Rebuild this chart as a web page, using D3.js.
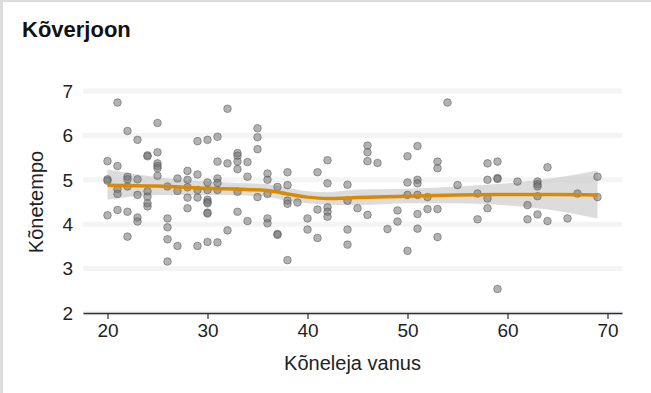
<!DOCTYPE html>
<html>
<head>
<meta charset="utf-8">
<script src="https://cdn.jsdelivr.net/npm/d3@7"></script>
<style>
  html, body { margin: 0; padding: 0; background: #fff; }
  svg { display: block; font-family: "Liberation Sans", Arial, sans-serif; }
</style>
</head>
<body>
<div id="chart"></div>
<script>
// speaker age (x) and speech rate (y)
const ages = [
  20, 20, 20, 20,
  21, 21, 21, 21, 21,
  22, 22, 22, 22, 22, 22,
  23, 23, 23, 23, 23,
  24, 24, 24, 24, 24, 24,
  25, 25, 25, 25, 25, 25,
  26, 26, 26, 26, 26,
  27, 27, 27,
  28, 28, 28, 28, 28,
  29, 29, 29, 29, 29,
  30, 30, 30, 30, 30, 30, 30, 30, 30,
  31, 31, 31, 31, 31, 31,
  32, 32, 32,
  33, 33, 33, 33, 33, 33,
  34, 34, 34,
  35, 35, 35, 35,
  36, 36, 36, 36, 36,
  37, 37, 37,
  38, 38, 38, 38, 38,
  39,
  40, 40,
  41, 41, 41,
  42, 42, 42, 42, 42,
  44, 44, 44, 44,
  45,
  46, 46, 46, 46,
  47,
  48,
  49, 49,
  50, 50, 50, 50,
  51, 51, 51, 51, 51, 51,
  52, 52,
  53, 53, 53, 53,
  54,
  55,
  57, 57,
  58, 58, 58, 58,
  59, 59, 59, 59,
  61,
  62, 62,
  63, 63, 63, 63, 63,
  64, 64,
  66,
  67,
  69, 69
];
const rates = [
  5.42, 5.01, 4.98, 4.2,
  6.74, 5.31, 4.79, 4.68, 4.32,
  6.1, 5.07, 5.01, 4.85, 4.28, 3.72,
  5.9, 5.01, 4.66, 4.15, 4.06,
  5.55, 5.53, 4.74, 4.62, 4.47, 4.4,
  6.28, 5.62, 5.37, 5.31, 5.26, 5.09,
  4.85, 4.13, 3.93, 3.66, 3.16,
  5.03, 4.75, 3.51,
  5.2, 5.0, 4.83, 4.6, 4.36,
  5.87, 5.12, 4.77, 4.6, 3.51,
  5.9, 4.94, 4.77, 4.55, 4.5, 4.47, 4.26, 4.24, 3.6,
  5.97, 5.41, 5.03, 4.93, 4.77, 3.59,
  6.6, 5.37, 3.86,
  5.6, 5.54, 5.41, 5.24, 4.73, 4.28,
  5.4, 5.07, 4.07,
  6.16, 5.96, 5.69, 4.61,
  5.14, 5.0, 4.68, 4.13, 4.02,
  4.84, 3.78, 3.76,
  5.17, 4.88, 4.53, 4.46, 3.19,
  4.49,
  4.13, 3.88,
  5.17, 4.33, 3.69,
  5.44, 4.92, 4.38, 4.28, 4.17,
  4.89, 4.53, 3.88, 3.54,
  4.36,
  5.77, 5.62, 5.42, 4.21,
  5.38,
  3.89,
  4.31, 4.06,
  5.53, 4.94, 4.66, 3.4,
  5.76, 5.0, 4.92, 4.66, 4.23, 3.9,
  4.61, 4.34,
  5.41, 5.26, 4.34, 3.71,
  6.74,
  4.88,
  4.69, 4.11,
  5.37, 5.0, 4.58, 4.36,
  5.41, 5.04, 5.02, 2.54,
  4.96,
  4.43, 4.11,
  4.96, 4.9, 4.85, 4.63, 4.22,
  5.28, 4.07,
  4.13,
  4.69,
  5.07, 4.61
];

// smoother curve and its band
const fitAges = [20, 25, 30, 33, 36, 38, 40, 42, 45, 50, 55, 60, 65, 69];
const fitRate = [4.88, 4.86, 4.81, 4.79, 4.76, 4.68, 4.61, 4.58, 4.6, 4.63, 4.66, 4.67, 4.67, 4.66];
const fitLow  = [4.55, 4.66, 4.66, 4.65, 4.62, 4.52, 4.47, 4.44, 4.43, 4.47, 4.47, 4.42, 4.3, 4.13];
const fitHigh = [5.23, 5.06, 4.96, 4.93, 4.9, 4.82, 4.74, 4.72, 4.78, 4.8, 4.85, 4.92, 5.05, 5.21];

const xTicks = [20, 30, 40, 50, 60, 70];
const yTicks = [2, 3, 4, 5, 6, 7];

const width = 651, height = 393;
const plotLeft = 83, plotRight = 622, plotTop = 91, plotBottom = 313;

const svg = d3.select('#chart').append('svg')
  .attr('width', width).attr('height', height);

// page frame
svg.append('rect').attr('x', 0).attr('y', 0).attr('width', width).attr('height', height).attr('fill', '#fff');
svg.append('rect').attr('x', 0).attr('y', 0).attr('width', 3).attr('height', height).attr('fill', '#dcdcdc');
svg.append('rect').attr('x', 0).attr('y', 0).attr('width', width).attr('height', 2).attr('fill', '#dcdcdc');

svg.append('text')
  .attr('x', 22).attr('y', 37)
  .attr('font-size', 22).attr('font-weight', 'bold').attr('fill', '#111')
  .text('Kõverjoon');

const x = d3.scaleLinear().domain([17.55, 71.45]).range([plotLeft, plotRight]);
const y = d3.scaleLinear().domain([2, 7]).range([plotBottom, plotTop]);

// grid bands
svg.append('g').selectAll('line')
  .data(yTicks)
  .enter().append('line')
  .attr('x1', plotLeft).attr('x2', plotRight)
  .attr('y1', d => y(d)).attr('y2', d => y(d))
  .attr('stroke', '#f3f4f6').attr('stroke-width', 5);

// y labels
svg.append('g').selectAll('text')
  .data(yTicks)
  .enter().append('text')
  .attr('x', 73).attr('y', d => y(d))
  .attr('dy', '0.36em')
  .attr('text-anchor', 'end')
  .attr('font-size', 19).attr('fill', '#222')
  .text(d => d);

// x axis
const xAxis = svg.append('g')
  .attr('transform', `translate(0,${plotBottom})`)
  .call(d3.axisBottom(x).tickValues(xTicks).tickSize(6).tickPadding(5).tickSizeOuter(0));
xAxis.select('.domain').attr('stroke', '#2a2f36').attr('stroke-width', 1.5);
xAxis.selectAll('.tick line').attr('stroke', '#2a2f36').attr('stroke-width', 1.2);
xAxis.selectAll('.tick text')
  .attr('font-size', 19).attr('fill', '#222')
  .attr('font-family', '"Liberation Sans", Arial, sans-serif');

svg.append('text')
  .attr('x', (plotLeft + plotRight) / 2).attr('y', 370)
  .attr('text-anchor', 'middle')
  .attr('font-size', 20).attr('fill', '#222')
  .text('Kõneleja vanus');

svg.append('text')
  .attr('transform', `translate(43,${(plotTop + plotBottom) / 2}) rotate(-90)`)
  .attr('text-anchor', 'middle')
  .attr('font-size', 20).attr('fill', '#222')
  .text('Kõnetempo');

// confidence band
const fit = fitAges.map((a, i) => ({ a, r: fitRate[i], lo: fitLow[i], hi: fitHigh[i] }));

svg.append('path')
  .datum(fit)
  .attr('d', d3.area().x(d => x(d.a)).y0(d => y(d.lo)).y1(d => y(d.hi)).curve(d3.curveMonotoneX))
  .attr('fill', '#c4c4c4').attr('opacity', 0.6);

// points
const pts = ages.map((a, i) => ({ a, r: rates[i] }));
svg.append('g').selectAll('circle')
  .data(pts)
  .enter().append('circle')
  .attr('cx', d => x(d.a)).attr('cy', d => y(d.r))
  .attr('r', 3.8)
  .attr('fill', 'rgba(115,115,115,0.55)')
  .attr('stroke', 'rgba(80,80,80,0.5)')
  .attr('stroke-width', 1);

// smoother line
svg.append('path')
  .datum(fit)
  .attr('d', d3.line().x(d => x(d.a)).y(d => y(d.r)).curve(d3.curveMonotoneX))
  .attr('fill', 'none')
  .attr('stroke', '#d98a00')
  .attr('stroke-width', 3.5);
</script>
</body>
</html>
